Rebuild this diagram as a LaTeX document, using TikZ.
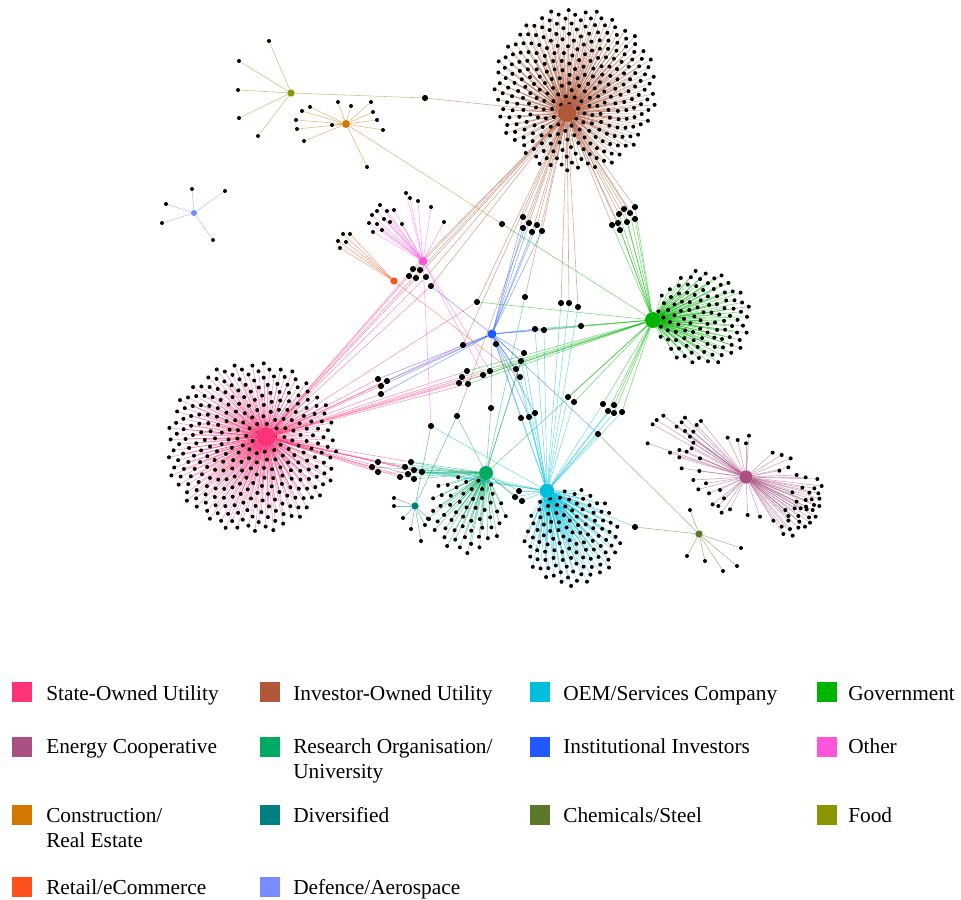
\documentclass[tikz,border=0pt]{standalone}
\usepackage{fontspec}
\setmainfont{Liberation Serif}

\definecolor{su}{HTML}{FF3377}
\definecolor{iou}{HTML}{B0583A}
\definecolor{oem}{HTML}{00BEDC}
\definecolor{gov}{HTML}{00B400}
\definecolor{ec}{HTML}{AA5082}
\definecolor{res}{HTML}{00AA64}
\definecolor{ii}{HTML}{1E5AFF}
\definecolor{oth}{HTML}{FF55DD}
\definecolor{con}{HTML}{D27800}
\definecolor{div}{HTML}{008080}
\definecolor{chem}{HTML}{5A7828}
\definecolor{food}{HTML}{8C9600}
\definecolor{ret}{HTML}{FF501E}
\definecolor{def}{HTML}{788CFF}

\pgfdeclarelayer{edges}
\pgfdeclarelayer{hubs}
\pgfsetlayers{edges,main,hubs}

\begin{document}
\begin{tikzpicture}[x=0.75pt,y=-0.75pt,
    leaf/.style={circle,fill=black,inner sep=0pt,minimum size=3pt},
    shared/.style={circle,fill=black,inner sep=0pt,minimum size=4.6pt},
    hub/.style={circle,inner sep=0pt,fill=#1},
    link/.style={draw=#1,draw opacity=0.5,line width=0.45pt},
    key/.style={rectangle,inner sep=0pt,minimum size=15pt,anchor=north west,fill=#1},
    keytext/.style={anchor=base west,inner sep=0pt,align=left,
        font=\fontsize{16}{18.75}\selectfont}]
    \useasboundingbox (0,0) rectangle (961,900);

    %%%%%%%%%% Hubs %%%%%%%%%%
    \begin{pgfonlayer}{hubs}
        \node[hub=su,minimum size=15pt] (su) at (266,437) {};
        \node[hub=iou,minimum size=14pt] (iou) at (567,113) {};
        \node[hub=gov,minimum size=12pt] (gov) at (653,320) {};
        \node[hub=oem,minimum size=11pt] (oem) at (547,491) {};
        \node[hub=res,minimum size=10.5pt] (res) at (486,473) {};
        \node[hub=ec,minimum size=10pt] (ec) at (746,477) {};
        \node[hub=ii,minimum size=6.8pt] (ii) at (492,334) {};
        \node[hub=oth,minimum size=6.8pt] (oth) at (423,261) {};
        \node[hub=con,minimum size=6pt] (con) at (346,124) {};
        \node[hub=food,minimum size=5.5pt] (food) at (291,93) {};
        \node[hub=ret,minimum size=5.5pt] (ret) at (394,281) {};
        \node[hub=def,minimum size=4.6pt] (def) at (194,213) {};
        \node[hub=div,minimum size=5.5pt] (div) at (415,506) {};
        \node[hub=chem,minimum size=5.5pt] (chem) at (699,534) {};
    \end{pgfonlayer}

    %%%%%%% Big clusters %%%%%%%
    \foreach \i in {1,...,300}{
        \pgfmathsetmacro\r{86*sqrt((\i-0.5)/300)}
        \pgfmathsetmacro\a{360*mod(\i*0.381966,1)}
        \node[leaf] (su\i) at ({252+\r*cos(\a)},{447+\r*sin(\a)}) {};
    }
    \foreach \i in {1,...,300}{
        \pgfmathsetmacro\r{82*sqrt((\i-0.5)/300)}
        \pgfmathsetmacro\a{360*mod(\i*0.381966,1)+40}
        \node[leaf] (iou\i) at ({575+\r*cos(\a)},{90+\r*sin(\a)}) {};
    }
    \foreach \i in {1,...,105}{
        \pgfmathsetmacro\r{48*sqrt((\i-0.5)/105)}
        \pgfmathsetmacro\a{360*mod(\i*0.381966,1)}
        \node[leaf] (gov\i) at ({703+\r*cos(\a)},{318+\r*sin(\a)}) {};
    }
    \foreach \i in {1,...,112}{
        \pgfmathsetmacro\r{49*sqrt((\i-0.5)/112)}
        \pgfmathsetmacro\a{360*mod(\i*0.381966,1)}
        \node[leaf] (oem\i) at ({572+\r*cos(\a)},{538+\r*sin(\a)}) {};
    }
    \foreach \i in {1,...,55}{
        \pgfmathsetmacro\r{40*sqrt((\i-0.5)/55)}
        \pgfmathsetmacro\a{360*mod(\i*0.381966,1)}
        \node[leaf] (res\i) at ({466+\r*cos(\a)},{514+\r*sin(\a)}) {};
    }
    \begin{pgfonlayer}{edges}
        \foreach \i in {1,...,300}{
            \draw[link=su] (su) -- (su\i);
            \draw[link=iou] (iou) -- (iou\i);
        }
        \foreach \i in {1,...,105} \draw[link=gov] (gov) -- (gov\i);
        \foreach \i in {1,...,112} \draw[link=oem] (oem) -- (oem\i);
        \foreach \i in {1,...,55} \draw[link=res] (res) -- (res\i);
    \end{pgfonlayer}

    %%%%%% Energy Cooperative %%%%%%
    \foreach \x/\y [count=\k] in {100/47,80/60,68/73,165/53,155/67,140/80,213/63,200/75,
        165/93,190/95,180/110,190/128,185/145,53/130,120/158,148/150,170/155,148/172,
        210/175,155/205,208/213,190/240,228/250,205/268,270/270,237/280,282/295,248/313,
        265/318,300/328,275/338,293/113,323/120,348/130,357/107,428/158,455/165,482/175,
        448/212,475/202,500/225,527/232,562/237,575/258,517/263,553/265,487/277,538/278,
        565/280,527/300,545/298,568/296,500/305,528/320,552/315,568/318,466/330,494/325,
        512/325,530/328,548/330,475/348,505/348,537/352,557/350,475/362,508/365,540/368,
        455/380,480/387,505/383,525/380,460/402,488/407,353/345,390/350,430/362}
        \node[leaf] (ec\k) at ({630+\x/3},{400+\y/3}) {};
    \begin{pgfonlayer}{edges}
        \foreach \k in {1,...,77} \draw[link=ec] (ec) -- (ec\k);
    \end{pgfonlayer}

    %%%%%%% Small clusters %%%%%%%
    \foreach \x/\y [count=\k] in {269/41,239/61,238/90,239/118,258/136}
        \node[leaf] (food\k) at (\x,\y) {};
    \foreach \x/\y [count=\k] in {338/102,351/106,371/102,373/112,377/120,383/130,310/107,
        302/111,296/120,297/129,304/141,332/125,367/167}
        \node[leaf] (con\k) at (\x,\y) {};
    \foreach \x/\y [count=\k] in {192/189,225/191,166/204,162/223,213/240}
        \node[leaf] (def\k) at (\x,\y) {};
    \foreach \x/\y [count=\k] in {343/234,350/234,338/241,346/242,340/248}
        \node[leaf] (ret\k) at (\x,\y) {};
    \foreach \x/\y [count=\k] in {406/193,410/198,418/201,431/207,444/222,380/205,372/215,
        369/223,373/232,377/211,387/211,394/210,384/219,390/222,377/224,382/230,402/224}
        \node[leaf] (oth\k) at (\x,\y) {};
    \foreach \x/\y [count=\k] in {394/498,394/506,403/518,411/529,421/541,425/525,429/519}
        \node[leaf] (div\k) at (\x,\y) {};
    \foreach \x/\y [count=\k] in {690/510,687/556,705/561,723/571,737/566,741/548}
        \node[leaf] (chem\k) at (\x,\y) {};
    \begin{pgfonlayer}{edges}
        \foreach \k in {1,...,5} \draw[link=food] (food) -- (food\k);
        \foreach \k in {1,...,13} \draw[link=con] (con) -- (con\k);
        \foreach \k in {1,...,5} \draw[link=def] (def) -- (def\k);
        \foreach \k in {1,...,5} \draw[link=ret] (ret) -- (ret\k);
        \foreach \k in {1,...,17} \draw[link=oth] (oth) -- (oth\k);
        \foreach \k in {1,...,7} \draw[link=div] (div) -- (div\k);
        \foreach \k in {1,...,6} \draw[link=chem] (chem) -- (chem\k);
    \end{pgfonlayer}

    %%%%%%% Shared members %%%%%%%
    \foreach \n/\x/\y in {a1/523/217,a2/529/223,a3/537/225,a4/523/228,a5/532/232,a6/542/231,
        b1/619/214,b2/624/209,b3/630/213,b4/635/207,b5/635/219,b6/612/225,b7/618/223,
        b8/627/222,b9/620/230,c1/413/269,c2/420/270,c3/409/276,c4/416/278,c5/426/277,
        c6/431/286,d1/477/302,d2/525/297,d3/561/303,d4/569/303,d5/578/307,d6/535/329,
        d7/544/330,d8/581/326,d9/463/345,d10/496/344,e1/524/353,e2/521/361,e3/516/369,
        e4/520/377,f1/467/371,f2/462/377,f3/459/383,f4/468/384,f5/483/375,f6/490/371,
        g1/568/397,g2/574/402,h1/603/404,h2/614/405,h3/608/411,h4/614/413,h5/622/412,
        k1/457/416,k2/491/408,k3/521/418,k4/529/417,k5/535/413,k6/431/426,k7/598/434,
        m1/378/379,m2/387/381,m3/381/386,m4/381/394,n1/411/462,n2/405/467,n3/414/470,
        n4/422/472,n5/378/462,n6/372/467,n7/378/472,n8/400/477,n9/408/474,n10/414/479,
        p1/519/491,p2/515/497,p3/522/501,q1/635/527,r1/425/98,r2/502/224}
        \node[shared] (\n) at (\x,\y) {};

    \begin{pgfonlayer}{edges}
        \foreach \s in {a1,a2,a3,a4,a5,a6,b1,b2,b3,b4,b5,b6,b7,b8,b9,c1,c2,c3,c4,c5,c6,
            d1,d2,d3,d4,d5,d9,r1,k1}
            \draw[link=iou] (iou) -- (\s);
        \foreach \s in {a1,a2,a3,a4,a5,a6,m1,m2,m3,m4,c6,d6,d7,d8,d9,d10,e1,e2,e3,e4,
            k2,k3,k4,k5,k7}
            \draw[link=ii] (ii) -- (\s);
        \foreach \s in {b1,b2,b3,b4,b5,b6,b7,b8,b9,d1,d6,d7,d8,f1,f2,f3,f4,f5,f6,g1,g2,
            h1,h2,h3,h4,h5,r2,res}
            \draw[link=gov] (gov) -- (\s);
        \foreach \s in {d3,d4,d5,d6,d7,d10,e1,e2,e3,e4,g1,g2,h1,h2,h3,h4,h5,k3,k4,k5,k6,
            k7,n1,n2,n3,n4,p1,p2,p3,q1}
            \draw[link=oem] (oem) -- (\s);
        \foreach \s in {d2,k1,k2,e1,e2,n1,n2,n3,n4,n5,n6,n7,n8,n9,n10,p1,p2,p3}
            \draw[link=res] (res) -- (\s);
        \foreach \s in {c1,c2,c3,c4,c5,c6,d1,d9,m1,m2,m3,m4,f1,f2,f3,f4,f5,f6,
            n1,n2,n3,n4,n5,n6,n7,n8,n9,n10}
            \draw[link=su] (su) -- (\s);
        \foreach \s in {k6,f5,f6}
            \draw[link=oth] (oth) -- (\s);
        \foreach \s in {k6,k1}
            \draw[link=div] (div) -- (\s);
        \foreach \s in {k7,q1}
            \draw[link=chem] (chem) -- (\s);
        \draw[link=food] (food) -- (r1);
        \draw[link=con] (con) -- (r2);
        \draw[link=ret] (ret) -- (e4);
    \end{pgfonlayer}

    %%%%%%%%% Legenda %%%%%%%%%
    \node[key=su] (ksu) at (12,682) {};
    \node[keytext] (tsu) at (46,700) {State-Owned Utility};
    \node[key=iou] (kiou) at (260,682) {};
    \node[keytext] (tiou) at (293,700) {Investor-Owned Utility};
    \node[key=oem] (koem) at (530,682) {};
    \node[keytext] (toem) at (563,700) {OEM/Services Company};
    \node[key=gov] (kgov) at (817,682) {};
    \node[keytext] (tgov) at (848,700) {Government};

    \node[key=ec] (kec) at (12,737) {};
    \node[keytext] (tec) at (46,753) {Energy Cooperative};
    \node[key=res] (kres) at (260,737) {};
    \node[keytext] (tres) at (293,778) {Research Organisation/\\University};
    \node[key=ii] (kii) at (530,737) {};
    \node[keytext] (tii) at (563,753) {Institutional Investors};
    \node[key=oth] (koth) at (817,737) {};
    \node[keytext] (toth) at (848,753) {Other};

    \node[key=con] (kcon) at (12,805) {};
    \node[keytext] (tcon) at (46,847) {Construction/\\Real Estate};
    \node[key=div] (kdiv) at (260,805) {};
    \node[keytext] (tdiv) at (293,822) {Diversified};
    \node[key=chem] (kchem) at (530,805) {};
    \node[keytext] (tchem) at (563,822) {Chemicals/Steel};
    \node[key=food] (kfood) at (817,805) {};
    \node[keytext] (tfood) at (848,822) {Food};

    \node[key=ret] (kret) at (12,877) {};
    \node[keytext] (tret) at (46,894) {Retail/eCommerce};
    \node[key=def] (kdef) at (260,877) {};
    \node[keytext] (tdef) at (293,894) {Defence/Aerospace};
\end{tikzpicture}
\end{document}
